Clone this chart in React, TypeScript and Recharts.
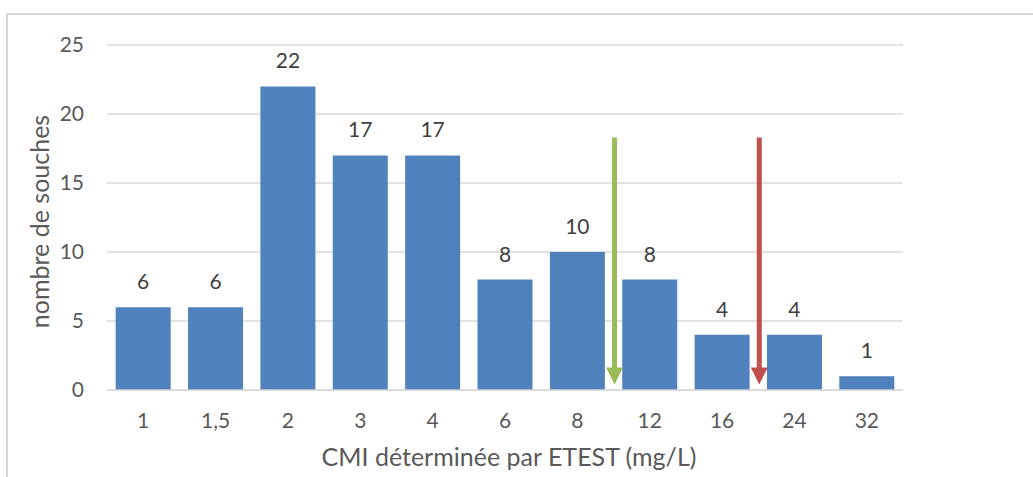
import React from "react";
import {
  BarChart,
  Bar,
  XAxis,
  YAxis,
  CartesianGrid,
  LabelList,
  Label,
  ReferenceLine,
} from "recharts";

// CMI values (mg/L) and number of strains per value
const categories = ["1", "1,5", "2", "3", "4", "6", "8", "12", "16", "24", "32"];
const counts = [6, 6, 22, 17, 17, 8, 10, 8, 4, 4, 1];
const yTicks = [0, 5, 10, 15, 20, 25];

// breakpoint arrows, drawn at the left edge of these categories
const arrowCategories = ["12", "24"];
const arrowTop = 18.3;
const arrowTip = 0.4;

const data = categories.map((cmi, i) => ({ cmi, n: counts[i] }));

const FONT = "Lato, 'Open Sans', sans-serif";
const TEXT = "#595959";
const GRID = "#D9D9D9";
const BLUE = "#4F81BD";
const ARROW_COLORS = ["#9BBB59", "#C0504D"];

const makeArrow = (color: string) => (p: any) => {
  const { x1, y1, x2, y2 } = p;
  const head = 17;
  const half = 8.5;
  return (
    <g>
      <line x1={x1 + 1} y1={y1} x2={x2 + 1} y2={y2 - head + 1} stroke={color} strokeWidth={5} />
      <polygon
        points={`${x2 + 1 - half},${y2 - head} ${x2 + 1 + half},${y2 - head} ${x2 + 1},${y2}`}
        fill={color}
      />
    </g>
  );
};

export default function App() {
  return (
    <div
      style={{
        position: "absolute",
        left: 0,
        top: 0,
        width: 1033,
        height: 477,
        background: "#fff",
        overflow: "hidden",
        fontFamily: FONT,
      }}
    >
      <div
        style={{
          position: "absolute",
          left: 6,
          top: 13,
          width: 1200,
          height: 600,
          borderLeft: `2px solid ${GRID}`,
          borderTop: `2px solid ${GRID}`,
        }}
      />
      <BarChart
        width={1033}
        height={477}
        data={data}
        margin={{ top: 45, right: 130, bottom: 0, left: 0 }}
        barCategoryGap="12%"
        style={{ position: "absolute", left: 0, top: 0 }}
      >
        <CartesianGrid vertical={false} stroke={GRID} strokeWidth={1.5} />
        <XAxis
          dataKey="cmi"
          height={87}
          axisLine={{ stroke: GRID, strokeWidth: 1.5 }}
          tickLine={false}
          tickSize={0}
          tickMargin={23}
          tick={{ fill: TEXT, fontSize: 21, fontFamily: FONT }}
        >
          <Label
            value="CMI déterminée par ETEST (mg/L)"
            position="insideBottom"
            offset={11}
            dx={4}
            fill={TEXT}
            fontSize={25}
            fontFamily={FONT}
          />
        </XAxis>
        <YAxis
          width={107}
          domain={[0, 25]}
          ticks={yTicks}
          axisLine={false}
          tickLine={false}
          tickSize={0}
          tickMargin={23}
          tick={{ fill: TEXT, fontSize: 21, fontFamily: FONT }}
        >
          <Label
            content={(props: any) => {
              const vb = props.viewBox;
              const cx = vb.x + 39;
              const cy = vb.y + vb.height / 2 + 4;
              return (
                <text
                  x={cx}
                  y={cy}
                  transform={`rotate(-90, ${cx}, ${cy})`}
                  textAnchor="middle"
                  dominantBaseline="central"
                  fill={TEXT}
                  fontSize={25}
                  fontFamily={FONT}
                >
                  nombre de souches
                </text>
              );
            }}
          />
        </YAxis>
        <Bar dataKey="n" fill={BLUE} isAnimationActive={false}>
          <LabelList
            dataKey="n"
            position="top"
            offset={18}
            fill="#404040"
            fontSize={21}
            fontFamily={FONT}
          />
        </Bar>
        {arrowCategories.map((c, i) => (
          <ReferenceLine
            key={c}
            position="start"
            segment={[
              { x: c, y: arrowTop },
              { x: c, y: arrowTip },
            ]}
            shape={makeArrow(ARROW_COLORS[i])}
          />
        ))}
      </BarChart>
    </div>
  );
}
